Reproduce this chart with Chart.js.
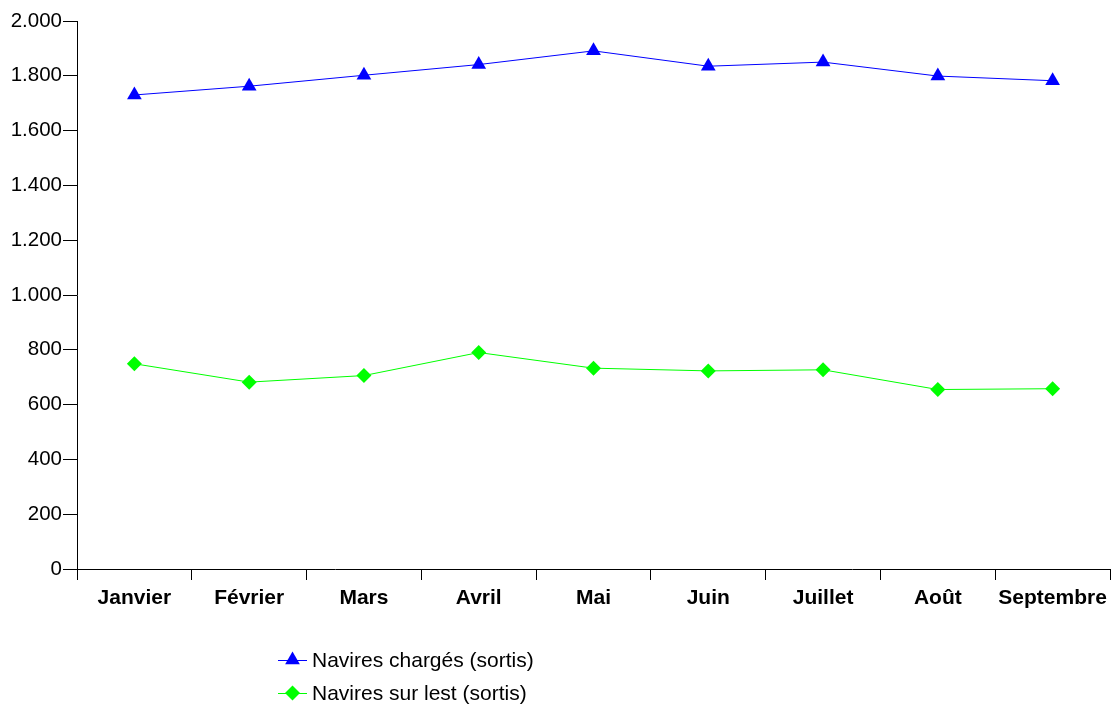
<!DOCTYPE html>
<html>
<head>
<meta charset="utf-8">
<script src="https://cdn.jsdelivr.net/npm/chart.js@4/dist/chart.umd.min.js"></script>
<style>
html,body{margin:0;padding:0;background:#fff;}
#wrap{position:relative;width:1113px;height:706px;}
</style>
</head>
<body>
<div id="wrap"><canvas id="c" width="1113" height="706"></canvas></div>
<script>
const categories = ["Janvier","Février","Mars","Avril","Mai","Juin","Juillet","Août","Septembre"];
const navires_charges = [1730, 1762, 1802, 1841, 1891, 1835, 1850, 1799, 1782];
const navires_lest = [749, 682, 706, 790, 733, 723, 727, 655, 658];
const seriesLabels = ["Navires chargés (sortis)", "Navires sur lest (sortis)"];
const yMin = 0, yMax = 2000, yStep = 200;

const FONT = '"Liberation Sans", Arial, sans-serif';

function fmt(v){ return String(v).replace(/\B(?=(\d{3})+(?!\d))/g, '.'); }

const legendPlugin = {
  id: 'vlegend',
  afterDraw(chart){
    const ctx = chart.ctx;
    const x0 = 278, y0 = 660, dy = 33;
    chart.data.datasets.forEach((ds, i) => {
      const y = y0 + i*dy;
      ctx.save();
      ctx.strokeStyle = ds.borderColor;
      ctx.lineWidth = 1;
      ctx.beginPath(); ctx.moveTo(x0, y + 0.5); ctx.lineTo(x0 + 29, y + 0.5); ctx.stroke();
      ctx.fillStyle = ds.pointBackgroundColor;
      Chart.helpers.drawPoint(ctx, {pointStyle: ds.pointStyle, radius: ds.pointRadius, borderWidth: 0}, x0 + 14.5, y);
      ctx.fillStyle = '#000';
      ctx.font = '21px ' + FONT;
      ctx.textBaseline = 'middle';
      ctx.textAlign = 'left';
      ctx.fillText(ds.label, x0 + 34, y + 1);
      ctx.restore();
    });
  }
};

new Chart(document.getElementById('c'), {
  type: 'line',
  data: {
    labels: categories,
    datasets: [
      {
        label: seriesLabels[0],
        data: navires_charges,
        borderColor: '#0000FF',
        backgroundColor: '#0000FF',
        pointBackgroundColor: '#0000FF',
        pointBorderColor: '#0000FF',
        pointBorderWidth: 0,
        borderWidth: 1,
        pointStyle: 'triangle',
        pointRadius: 8.5,
        tension: 0
      },
      {
        label: seriesLabels[1],
        data: navires_lest,
        borderColor: '#00FF00',
        backgroundColor: '#00FF00',
        pointBackgroundColor: '#00FF00',
        pointBorderColor: '#00FF00',
        pointBorderWidth: 0,
        borderWidth: 1,
        pointStyle: 'rectRot',
        pointRadius: 7.5,
        tension: 0
      }
    ]
  },
  options: {
    responsive: false,
    animation: false,
    devicePixelRatio: 1,
    layout: { autoPadding: false, padding: { top: 21, right: 3, left: 0, bottom: 0 } },
    plugins: { legend: { display: false }, tooltip: { enabled: false } },
    scales: {
      x: {
        type: 'category',
        offset: true,
        grid: { offset: true, drawOnChartArea: false, tickLength: 11, color: '#000', lineWidth: 1 },
        border: { display: true, color: '#000', width: 1 },
        ticks: { color: '#000', font: { family: FONT, size: 21, weight: 'bold' }, padding: 6, maxRotation: 0, autoSkip: false },
        afterFit(s){ s.height = 137; s.paddingLeft = 0; s.paddingRight = 0; }
      },
      y: {
        min: yMin, max: yMax,
        grid: { drawOnChartArea: false, tickLength: 14, color: '#000', lineWidth: 1 },
        border: { display: true, color: '#000', width: 1 },
        ticks: { stepSize: yStep, color: '#000', font: { family: FONT, size: 20.5 }, padding: 1, callback: (v) => fmt(v) },
        afterFit(s){ s.width = 77; }
      }
    }
  },
  plugins: [legendPlugin]
});
</script>
</body>
</html>
